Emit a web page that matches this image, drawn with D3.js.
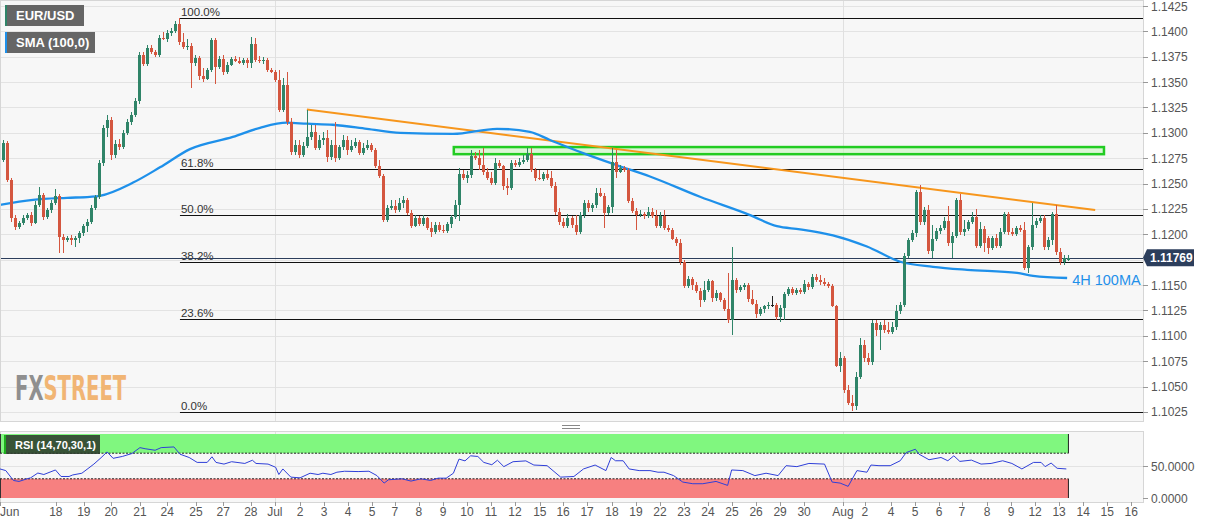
<!DOCTYPE html>
<html><head><meta charset="utf-8">
<script src="https://cdn.jsdelivr.net/npm/d3@7"></script>
<style>
body{margin:0;background:#fff;font-family:"Liberation Sans",Arial,sans-serif;}
svg{display:block}
</style></head>
<body><svg id="c" width="1207" height="526"></svg>
<script>
// ---------- DATA ----------
// 4H EUR/USD candles [open, high, low, close]
const ohlc = [
[1.1273,1.1293,1.1271,1.1290],[1.1290,1.1292,1.1252,1.1254],[1.1254,1.1256,1.1212,1.1216],[1.1216,1.1219,1.1204,1.1207],
[1.1207,1.1213,1.1205,1.1211],[1.1211,1.1219,1.1209,1.1216],[1.1216,1.1221,1.1214,1.1219],[1.1219,1.1222,1.1208,1.1211],
[1.1211,1.1233,1.1210,1.1229],[1.1229,1.1247,1.1227,1.1239],[1.1239,1.1241,1.1214,1.1217],[1.1217,1.1226,1.1215,1.1224],
[1.1224,1.1234,1.1221,1.1231],[1.1231,1.1245,1.1229,1.1238],[1.1238,1.1240,1.1182,1.1197],[1.1197,1.1200,1.1182,1.1194],
[1.1194,1.1198,1.1192,1.1196],[1.1196,1.1199,1.1190,1.1194],[1.1194,1.1198,1.1188,1.1196],[1.1196,1.1203,1.1191,1.1201],
[1.1201,1.1210,1.1198,1.1208],[1.1208,1.1215,1.1202,1.1212],[1.1212,1.1229,1.1210,1.1226],[1.1226,1.1239,1.1224,1.1237],
[1.1237,1.1273,1.1235,1.1270],[1.1270,1.1308,1.1267,1.1305],[1.1305,1.1318,1.1296,1.1313],[1.1313,1.1316,1.1273,1.1278],
[1.1278,1.1293,1.1275,1.1289],[1.1289,1.1294,1.1283,1.1286],[1.1286,1.1303,1.1284,1.1300],[1.1300,1.1314,1.1298,1.1311],
[1.1311,1.1321,1.1308,1.1318],[1.1318,1.1334,1.1316,1.1331],[1.1331,1.1380,1.1328,1.1377],[1.1377,1.1380,1.1366,1.1368],
[1.1368,1.1387,1.1366,1.1384],[1.1384,1.1387,1.1378,1.1380],[1.1380,1.1382,1.1375,1.1377],[1.1377,1.1396,1.1375,1.1393],
[1.1393,1.1399,1.1391,1.1392],[1.1392,1.1401,1.1390,1.1398],[1.1398,1.1403,1.1395,1.1400],[1.1400,1.1410,1.1398,1.1407],
[1.1407,1.1413,1.1387,1.1390],[1.1390,1.1398,1.1383,1.1385],[1.1385,1.1392,1.1382,1.1386],[1.1386,1.1389,1.1344,1.1369],
[1.1369,1.1377,1.1366,1.1374],[1.1374,1.1376,1.1352,1.1356],[1.1356,1.1364,1.1350,1.1353],[1.1353,1.1364,1.1352,1.1362],
[1.1362,1.1393,1.1360,1.1391],[1.1391,1.1393,1.1348,1.1365],[1.1365,1.1376,1.1363,1.1373],[1.1373,1.1377,1.1357,1.1360],
[1.1360,1.1370,1.1358,1.1367],[1.1367,1.1375,1.1366,1.1373],[1.1373,1.1376,1.1370,1.1371],[1.1371,1.1375,1.1368,1.1369],
[1.1369,1.1374,1.1367,1.1372],[1.1372,1.1374,1.1364,1.1369],[1.1369,1.1394,1.1364,1.1388],[1.1388,1.1393,1.1370,1.1372],
[1.1372,1.1376,1.1369,1.1371],[1.1371,1.1375,1.1368,1.1372],[1.1372,1.1374,1.1360,1.1362],[1.1362,1.1364,1.1359,1.1360],
[1.1360,1.1362,1.1350,1.1352],[1.1352,1.1362,1.1321,1.1323],[1.1323,1.1354,1.1321,1.1347],[1.1347,1.1360,1.1308,1.1311],
[1.1311,1.1315,1.1278,1.1281],[1.1281,1.1293,1.1278,1.1288],[1.1288,1.1293,1.1275,1.1278],[1.1278,1.1291,1.1276,1.1287],
[1.1287,1.1323,1.1285,1.1296],[1.1296,1.1308,1.1293,1.1301],[1.1301,1.1308,1.1283,1.1285],[1.1285,1.1298,1.1283,1.1293],
[1.1293,1.1301,1.1288,1.1295],[1.1295,1.1303,1.1271,1.1276],[1.1276,1.1293,1.1273,1.1288],[1.1288,1.1311,1.1271,1.1275],
[1.1275,1.1288,1.1273,1.1286],[1.1286,1.1298,1.1283,1.1293],[1.1293,1.1297,1.1278,1.1283],[1.1283,1.1293,1.1281,1.1287],
[1.1287,1.1295,1.1285,1.1291],[1.1291,1.1293,1.1278,1.1280],[1.1280,1.1290,1.1278,1.1285],[1.1285,1.1293,1.1283,1.1288],
[1.1288,1.1290,1.1281,1.1283],[1.1283,1.1285,1.1265,1.1267],[1.1267,1.1273,1.1256,1.1257],[1.1257,1.1259,1.1212,1.1214],
[1.1214,1.1229,1.1212,1.1226],[1.1226,1.1234,1.1224,1.1228],[1.1228,1.1234,1.1221,1.1224],[1.1224,1.1236,1.1222,1.1231],
[1.1231,1.1238,1.1226,1.1234],[1.1234,1.1236,1.1219,1.1221],[1.1221,1.1224,1.1206,1.1208],[1.1208,1.1219,1.1207,1.1216],
[1.1216,1.1218,1.1208,1.1210],[1.1210,1.1219,1.1208,1.1216],[1.1216,1.1217,1.1204,1.1206],[1.1206,1.1212,1.1197,1.1202],
[1.1202,1.1212,1.1200,1.1209],[1.1209,1.1212,1.1202,1.1204],[1.1204,1.1209,1.1201,1.1203],[1.1203,1.1212,1.1201,1.1210],
[1.1210,1.1219,1.1206,1.1217],[1.1217,1.1234,1.1215,1.1229],[1.1229,1.1265,1.1213,1.1259],[1.1259,1.1263,1.1254,1.1256],
[1.1256,1.1262,1.1251,1.1258],[1.1258,1.1283,1.1256,1.1277],[1.1277,1.1281,1.1273,1.1275],[1.1275,1.1283,1.1263,1.1268],
[1.1268,1.1285,1.1258,1.1261],[1.1261,1.1265,1.1254,1.1256],[1.1256,1.1261,1.1249,1.1251],[1.1251,1.1275,1.1249,1.1270],
[1.1270,1.1273,1.1265,1.1267],[1.1267,1.1268,1.1244,1.1248],[1.1248,1.1256,1.1239,1.1246],[1.1246,1.1273,1.1244,1.1270],
[1.1270,1.1273,1.1266,1.1268],[1.1268,1.1275,1.1266,1.1271],[1.1271,1.1278,1.1269,1.1273],[1.1273,1.1285,1.1271,1.1279],
[1.1279,1.1285,1.1261,1.1263],[1.1263,1.1265,1.1253,1.1256],[1.1256,1.1263,1.1254,1.1255],[1.1255,1.1261,1.1253,1.1259],
[1.1259,1.1263,1.1254,1.1256],[1.1256,1.1262,1.1246,1.1248],[1.1248,1.1252,1.1219,1.1222],[1.1222,1.1226,1.1209,1.1212],
[1.1212,1.1216,1.1206,1.1208],[1.1208,1.1220,1.1206,1.1216],[1.1216,1.1218,1.1206,1.1209],[1.1209,1.1219,1.1199,1.1202],
[1.1202,1.1222,1.1200,1.1219],[1.1219,1.1234,1.1216,1.1231],[1.1231,1.1234,1.1222,1.1226],[1.1226,1.1231,1.1222,1.1229],
[1.1229,1.1246,1.1226,1.1241],[1.1241,1.1246,1.1237,1.1238],[1.1238,1.1241,1.1206,1.1221],[1.1221,1.1229,1.1219,1.1227],
[1.1227,1.1285,1.1221,1.1271],[1.1271,1.1283,1.1256,1.1261],[1.1261,1.1268,1.1260,1.1265],[1.1265,1.1267,1.1261,1.1263],
[1.1263,1.1265,1.1231,1.1233],[1.1233,1.1236,1.1221,1.1223],[1.1223,1.1226,1.1204,1.1219],[1.1219,1.1224,1.1217,1.1220],
[1.1220,1.1222,1.1215,1.1218],[1.1218,1.1227,1.1216,1.1222],[1.1222,1.1226,1.1216,1.1218],[1.1218,1.1224,1.1206,1.1208],
[1.1208,1.1222,1.1206,1.1218],[1.1218,1.1224,1.1204,1.1206],[1.1206,1.1209,1.1202,1.1204],[1.1204,1.1206,1.1194,1.1195],
[1.1195,1.1197,1.1189,1.1191],[1.1191,1.1195,1.1170,1.1173],[1.1173,1.1175,1.1147,1.1149],[1.1149,1.1159,1.1147,1.1156],
[1.1156,1.1158,1.1145,1.1150],[1.1150,1.1153,1.1142,1.1144],[1.1144,1.1147,1.1128,1.1135],[1.1135,1.1154,1.1133,1.1145],
[1.1145,1.1156,1.1143,1.1154],[1.1154,1.1155,1.1133,1.1137],[1.1137,1.1145,1.1134,1.1142],[1.1142,1.1143,1.1133,1.1135],
[1.1135,1.1137,1.1124,1.1126],[1.1126,1.1162,1.1113,1.1116],[1.1116,1.1188,1.1101,1.1155],[1.1155,1.1157,1.1142,1.1145],
[1.1145,1.1150,1.1143,1.1148],[1.1148,1.1152,1.1145,1.1150],[1.1150,1.1152,1.1133,1.1136],[1.1136,1.1145,1.1130,1.1131],
[1.1131,1.1135,1.1118,1.1122],[1.1122,1.1128,1.1120,1.1126],[1.1126,1.1130,1.1123,1.1129],[1.1129,1.1133,1.1126,1.1130],
[1.1130,1.1139,1.1128,1.1130],[1.1130,1.1132,1.1116,1.1119],[1.1119,1.1130,1.1114,1.1127],[1.1127,1.1143,1.1116,1.1141],
[1.1141,1.1148,1.1139,1.1146],[1.1146,1.1148,1.1140,1.1142],[1.1142,1.1147,1.1140,1.1145],[1.1145,1.1147,1.1141,1.1143],
[1.1143,1.1155,1.1141,1.1151],[1.1151,1.1153,1.1145,1.1148],[1.1148,1.1161,1.1146,1.1158],[1.1158,1.1161,1.1153,1.1155],
[1.1155,1.1160,1.1150,1.1153],[1.1153,1.1157,1.1149,1.1151],[1.1151,1.1153,1.1147,1.1149],[1.1149,1.1151,1.1128,1.1129],
[1.1129,1.1130,1.1069,1.1070],[1.1070,1.1084,1.1064,1.1078],[1.1078,1.1080,1.1044,1.1047],[1.1047,1.1052,1.1032,1.1034],
[1.1034,1.1042,1.1026,1.1031],[1.1031,1.1064,1.1027,1.1059],[1.1059,1.1098,1.1057,1.1091],[1.1091,1.1096,1.1074,1.1078],
[1.1078,1.1083,1.1071,1.1074],[1.1074,1.1116,1.1071,1.1113],[1.1113,1.1116,1.1100,1.1106],[1.1106,1.1114,1.1086,1.1111],
[1.1111,1.1116,1.1103,1.1106],[1.1106,1.1114,1.1102,1.1104],[1.1104,1.1114,1.1102,1.1109],[1.1109,1.1130,1.1106,1.1124],
[1.1124,1.1133,1.1122,1.1130],[1.1130,1.1182,1.1128,1.1179],[1.1179,1.1196,1.1177,1.1194],[1.1194,1.1204,1.1192,1.1201],
[1.1201,1.1244,1.1197,1.1242],[1.1242,1.1249,1.1209,1.1212],[1.1212,1.1227,1.1209,1.1224],[1.1224,1.1229,1.1181,1.1184],
[1.1184,1.1209,1.1177,1.1195],[1.1195,1.1206,1.1193,1.1203],[1.1203,1.1209,1.1200,1.1206],[1.1206,1.1217,1.1204,1.1213],
[1.1213,1.1228,1.1189,1.1191],[1.1191,1.1202,1.1177,1.1198],[1.1198,1.1236,1.1196,1.1234],[1.1234,1.1240,1.1199,1.1202],
[1.1202,1.1214,1.1198,1.1205],[1.1205,1.1214,1.1203,1.1212],[1.1212,1.1222,1.1210,1.1217],[1.1217,1.1225,1.1187,1.1189],
[1.1189,1.1212,1.1187,1.1205],[1.1205,1.1208,1.1183,1.1191],[1.1196,1.1198,1.1181,1.1187],[1.1187,1.1198,1.1185,1.1196],
[1.1196,1.1200,1.1187,1.1189],[1.1189,1.1206,1.1187,1.1202],[1.1202,1.1222,1.1200,1.1220],[1.1220,1.1222,1.1199,1.1202],
[1.1202,1.1206,1.1198,1.1200],[1.1200,1.1208,1.1198,1.1206],[1.1206,1.1209,1.1202,1.1204],[1.1204,1.1212,1.1165,1.1167],
[1.1167,1.1190,1.1162,1.1188],[1.1188,1.1231,1.1185,1.1209],[1.1209,1.1216,1.1206,1.1213],[1.1213,1.1219,1.1211,1.1216],
[1.1216,1.1219,1.1185,1.1188],[1.1188,1.1197,1.1185,1.1194],[1.1194,1.1222,1.1190,1.1220],[1.1220,1.1229,1.1180,1.1183],
[1.1183,1.1187,1.1170,1.1173],[1.1173,1.1180,1.1170,1.1177],[1.1175,1.1180,1.1174,1.11769]
];
// SMA(100) on 4H: [candle index, value]
const smaPoints = [[-0.75,1.1229],[7.5,1.1234],[16,1.1236],[21.7,1.1237],[24.2,1.1238],[32.5,1.1251],[39.2,1.1266],[46.7,1.1284],[57.4,1.1296],[64.2,1.1305],[70.9,1.1310],[75.9,1.1309],[82.4,1.1308],[90.9,1.1304],[99.2,1.1300],[112.4,1.1299],[123.4,1.1304],[131.6,1.1301],[136.6,1.1293],[144.9,1.1280],[153.4,1.1268],[161.6,1.1257],[174.1,1.1237],[186.6,1.1219],[193.3,1.1208],[199.1,1.1205],[207.3,1.1199],[215.8,1.1188],[224.1,1.1173],[232.3,1.1168],[240.8,1.1165],[253.3,1.1162],[257.3,1.1159],[265.8,1.1157]];
// RSI(14): [candle index, value]
const rsiPoints = [[-0.75,45.4],[0.7,42.8],[2.6,27.4],[4,25.9],[6,30],[6.9,31.5],[8.7,39],[10.2,36.7],[13.1,43.8],[14.5,33.6],[16.5,33.6],[17.4,36],[19.7,38.7],[22.7,53],[24.5,63],[26,72],[27.5,62],[29.8,64.9],[32.2,69.5],[34.2,78.7],[35.5,77],[38,74.6],[39.5,78.7],[42.7,79.8],[44.2,68.5],[46.5,63.3],[48.5,55.6],[51,55.6],[52.2,64.4],[53.2,55.6],[55.2,53],[57.1,56.7],[60.4,54],[62.3,59],[63.2,54],[66.2,53],[68.1,48],[68.9,36.7],[69.9,45.4],[71.9,32.6],[74.2,31.5],[76.7,38.7],[78.7,36.7],[79.9,38.7],[81.9,36.7],[83.4,40.3],[85.3,41.8],[88.7,41.3],[91.4,41.8],[93.4,35],[95.2,23.3],[96.3,28.5],[99.7,30],[101.9,26.4],[104.4,30],[106.8,27.4],[108.7,31],[110.7,31],[112.5,38.7],[113.9,60.8],[115.4,58],[116.8,65.9],[118.6,64.9],[120.1,55.6],[122.1,52],[123.5,59],[125.1,49],[127.4,56.7],[130.6,58],[132.6,51.5],[135.9,50.5],[139.3,32.6],[142.6,33.6],[145,45.4],[147.9,51.5],[150.6,42.8],[151.9,63.3],[153,58.2],[154.9,58.2],[156.4,45.4],[158.9,42.8],[161.6,42.8],[163.6,40.3],[165.1,40.3],[167.5,35],[169.8,24.9],[172.3,22.3],[174.8,22.3],[178.1,25.9],[181,19.7],[182,43.8],[184.8,42.8],[187.8,35],[190.6,38.7],[193.6,35],[195.6,50.5],[198.3,49],[201.3,54],[205.2,53],[207.1,24.9],[209.1,23.3],[211.1,18.2],[213.3,42.8],[215.8,40.3],[216.8,51.5],[218.8,50.5],[221.6,50.5],[224.1,58.2],[225.6,71],[227.9,76.2],[228.8,68.5],[231.3,59.8],[234.3,63.3],[236,58.2],[237.5,65.9],[239,57.2],[241.9,59.2],[244.3,53],[246.8,54],[249.7,58.2],[252,54],[254.5,45.4],[257.4,55.6],[259.3,55.6],[260.3,49],[261.8,54.6],[263.3,46.4],[265.6,45.4]];
const priceTicks = [1.1025,1.1050,1.1075,1.1100,1.1125,1.1150,1.1200,1.1225,1.1250,1.1275,1.1300,1.1325,1.1350,1.1375,1.1400,1.1425];
const gridTicks = [1.1025,1.1050,1.1075,1.1100,1.1125,1.1150,1.1175,1.1200,1.1225,1.1250,1.1275,1.1300,1.1325,1.1350,1.1375,1.1400,1.1425];
const rsiTicks = [0, 50];
const rsiTickLabels = ["0.0000","50.0000"];
const dateLabels = ["Jun","18","19","20","21","24","25","27","28","Jul","2","3","4","5","7","8","9","10","11","12","15","16","17","18","19","22","23","24","25","26","29","30","Aug","2","4","5","6","7","8","9","12","13","14","15","16"];
const datePos = [-0.75,13.2,20.2,27,34.2,41,48.2,55,61.9,67.9,74.2,80.2,86.2,92.2,97.9,103.9,109.9,115.9,121.9,127.9,134.1,139.9,145.9,152.1,158.1,164.1,170.1,176.1,182.1,188.1,194.1,200.1,209.8,215.3,221.8,227.8,233.8,239.5,245.8,251.8,257.8,263.8,269.8,275.8,281.8];
const monthStarts = [67.9, 209.8];
const fibHigh = 1.1413, fibLow = 1.1025, fibStart = 44.2;
const fibLevels = [1, 0.618, 0.5, 0.382, 0.236, 0];
const fibLabels = ["100.0%","61.8%","50.0%","38.2%","23.6%","0.0%"];
const trendline = [[75.9,1.1323],[272.8,1.1224]];
const zoneX = [112.6, 275], zonePrice = [1.1279, 1.1286];
const lastPrice = 1.11769;
const rsiBands = [[70,100,"#80f77f"],[0,30,"#f78080"]];

// ---------- LAYOUT ----------
const W = 1143, mainH = 421, rTop = 431, rBot = 502;
const svg = d3.select("#c");
const x = d3.scaleLinear().domain([-0.75, 284.75]).range([0, W]);
const y = d3.scaleLinear().domain([1.10161, 1.14309]).range([mainH, 0]);
const ry = d3.scaleLinear().domain([0, 100]).range([498, 434]);
const lastIdx = ohlc.length - 1;

// backgrounds
svg.append("rect").attr("x",0).attr("y",0).attr("width",W).attr("height",mainH).attr("fill","#f7f7f7");
svg.append("rect").attr("x",0).attr("y",rTop).attr("width",W).attr("height",rBot-rTop).attr("fill","#f7f7f7");

// grid
const g = svg.append("g").attr("shape-rendering","crispEdges");
g.selectAll(".hg").data(gridTicks).join("line").attr("x1",0).attr("x2",W)
 .attr("y1",d=>Math.round(y(d))+0.5).attr("y2",d=>Math.round(y(d))+0.5).attr("stroke","#e3e3e3");
g.selectAll(".vg").data(monthStarts).join("line").attr("x1",d=>Math.round(x(d))+0.5).attr("x2",d=>Math.round(x(d))+0.5)
 .attr("y1",0).attr("y2",mainH).attr("stroke","#e0e0e0");
g.selectAll(".vg2").data(monthStarts).join("line").attr("x1",d=>Math.round(x(d))+0.5).attr("x2",d=>Math.round(x(d))+0.5)
 .attr("y1",rTop).attr("y2",rBot).attr("stroke","#e0e0e0");
g.append("line").attr("x1",0).attr("x2",W).attr("y1",Math.round(ry(50))+0.5).attr("y2",Math.round(ry(50))+0.5).attr("stroke","#e3e3e3");

// FXSTREET logo (one text, horizontally condensed via transform)
const logo = svg.append("text").attr("transform","translate(15,400) scale(0.66,1)")
 .attr("font-family","DejaVu Sans Condensed").attr("font-weight","bold").attr("font-size",33);
logo.append("tspan").attr("fill","#8f8f8f").text("FX");
logo.append("tspan").attr("fill","#f1b574").text("STREET");

// fib lines
const fibG = svg.append("g");
fibLevels.forEach((lv,i)=>{
  const p = fibLow + (fibHigh-fibLow)*lv;
  const yy = Math.round(y(p))+0.5;
  fibG.append("line").attr("x1",x(fibStart)).attr("x2",W).attr("y1",yy).attr("y2",yy).attr("stroke","#111").attr("stroke-width",1.2);
  fibG.append("text").attr("x",x(fibStart)+1).attr("y",yy-3).attr("font-size",11.5).attr("fill","#333").text(fibLabels[i]);
});

// last price line
svg.append("line").attr("x1",0).attr("x2",W).attr("y1",Math.round(y(lastPrice))+0.5).attr("y2",Math.round(y(lastPrice))+0.5)
 .attr("stroke","#2c3e5c").attr("stroke-width",1);

// resistance zone
svg.append("rect").attr("x",x(zoneX[0])).attr("y",y(zonePrice[1])).attr("width",x(zoneX[1])-x(zoneX[0]))
 .attr("height",y(zonePrice[0])-y(zonePrice[1])).attr("fill","#c8f5c0").attr("fill-opacity",0.6)
 .attr("stroke","#22cc22").attr("stroke-width",2.5);

// trendline
svg.append("line").attr("x1",x(trendline[0][0])).attr("y1",y(trendline[0][1])).attr("x2",x(trendline[1][0])).attr("y2",y(trendline[1][1]))
 .attr("stroke","#f7961c").attr("stroke-width",2);

// SMA
svg.append("path").datum(smaPoints).attr("fill","none").attr("stroke","#1e90ea").attr("stroke-width",2.3)
 .attr("d", d3.line().x(d=>x(d[0])).y(d=>y(d[1])).curve(d3.curveMonotoneX));

// candles
const up = "#2f8468", dn = "#d4563f";
const cg = svg.append("g").attr("shape-rendering","crispEdges");
const col = d => d[3] > d[0] ? up : (d[3] < d[0] ? dn : "#222");
cg.selectAll(".wick").data(ohlc).join("line")
 .attr("x1",(d,i)=>Math.round(x(i))+0.5).attr("x2",(d,i)=>Math.round(x(i))+0.5)
 .attr("y1",d=>y(d[1])).attr("y2",d=>y(d[2])).attr("stroke",col);
cg.selectAll(".body").data(ohlc).join("rect")
 .attr("x",(d,i)=>Math.round(x(i))-1).attr("width",3)
 .attr("y",d=>y(Math.max(d[0],d[3])))
 .attr("height",d=>Math.max(1, Math.abs(y(d[0])-y(d[3]))))
 .attr("fill",col);

// 4H 100MA label
svg.append("text").attr("x",x(smaPoints[smaPoints.length-1][0])+5).attr("y",285).attr("font-size",14.5).attr("fill","#1e90ea").text("4H 100MA");

// panel borders
svg.append("rect").attr("x",0.5).attr("y",0.5).attr("width",W).attr("height",mainH).attr("fill","none").attr("stroke","#d6d6d6").attr("shape-rendering","crispEdges");
svg.append("rect").attr("x",0.5).attr("y",rTop+0.5).attr("width",W).attr("height",rBot-rTop).attr("fill","none").attr("stroke","#d6d6d6").attr("shape-rendering","crispEdges");

// y axis (price)
const ya = svg.append("g");
ya.selectAll("line").data(priceTicks).join("line").attr("x1",W).attr("x2",W+5)
 .attr("y1",d=>Math.round(y(d))+0.5).attr("y2",d=>Math.round(y(d))+0.5).attr("stroke","#999");
ya.selectAll("text").data(priceTicks).join("text").attr("x",W+8).attr("y",d=>y(d)+4.5)
 .attr("font-size",12).attr("fill","#555").text(d=>d.toFixed(4));

// price tag
const ly = y(lastPrice);
svg.append("path").attr("d",`M${W},${ly} L${W+4},${ly-8.5} L${W+51},${ly-8.5} L${W+51},${ly+8.5} L${W+4},${ly+8.5} Z`).attr("fill","#2c3e5c");
svg.append("text").attr("x",W+7).attr("y",ly+4.5).attr("font-size",12).attr("font-weight","bold").attr("fill","#fff").text(lastPrice.toFixed(5));

// RSI bands
const bx1 = x(lastIdx)+0.5;
rsiBands.forEach(b=>{
  svg.append("rect").attr("x",0).attr("y",ry(b[1])).attr("width",bx1).attr("height",ry(b[0])-ry(b[1])).attr("fill",b[2]);
  svg.append("line").attr("x1",bx1).attr("x2",bx1).attr("y1",ry(b[1])).attr("y2",ry(b[0])).attr("stroke","#222");
  svg.append("line").attr("x1",0.5).attr("x2",0.5).attr("y1",ry(b[1])).attr("y2",ry(b[0])).attr("stroke","#333");
});
[70,30].forEach(v=>{
  svg.append("line").attr("x1",0).attr("x2",bx1).attr("y1",ry(v)).attr("y2",ry(v)).attr("stroke","#222").attr("stroke-dasharray","2,1.5");
});
svg.append("path").datum(rsiPoints).attr("fill","none").attr("stroke","#2f3fd8").attr("stroke-width",1)
 .attr("d", d3.line().x(d=>x(d[0])).y(d=>ry(d[1])));

// RSI axis
const ra = svg.append("g");
ra.selectAll("line").data(rsiTicks).join("line").attr("x1",W).attr("x2",W+5)
 .attr("y1",d=>Math.round(ry(d))+0.5).attr("y2",d=>Math.round(ry(d))+0.5).attr("stroke","#999");
ra.selectAll("text").data(rsiTicks).join("text").attr("x",W+8).attr("y",d=>ry(d)+4.5)
 .attr("font-size",12).attr("fill","#555").text((d,i)=>rsiTickLabels[i]);

// drag handle
[425.5,428.5].forEach(v=>svg.append("line").attr("x1",562).attr("x2",580).attr("y1",v).attr("y2",v).attr("stroke","#888"));

// x axis
const xa = svg.append("g");
xa.selectAll("line").data(datePos).join("line").attr("x1",d=>Math.round(x(d))+0.5).attr("x2",d=>Math.round(x(d))+0.5)
 .attr("y1",rBot).attr("y2",rBot+4).attr("stroke","#999");
xa.selectAll("text").data(datePos).join("text").attr("x",d=>x(d)).attr("y",516)
 .attr("text-anchor",(d,i)=>i===0?"start":"middle").attr("font-size",12).attr("fill","#555").text((d,i)=>dateLabels[i]);

// legends
function legend(x0,y0,w,h,accent,label,fill,fs,tl){
  svg.append("rect").attr("x",x0).attr("y",y0).attr("width",w).attr("height",h).attr("fill",fill);
  svg.append("rect").attr("x",x0).attr("y",y0).attr("width",2).attr("height",h).attr("fill",accent);
  const t = svg.append("text").attr("x",x0+11).attr("y",y0+h/2+4.5).attr("font-size",fs).attr("font-weight","bold").attr("fill","#fff").text(label);
  if (tl) t.attr("textLength",tl).attr("lengthAdjust","spacingAndGlyphs");
}
legend(5,5,79,21,"#2f8468","EUR/USD","#666",13);
legend(5,32,90,21,"#1e90ea","SMA (100,0)","#666",13);
legend(4,435,96,19,"#1fae1f","RSI (14,70,30,1)","rgba(45,60,45,0.88)",11.5,81);
</script></body></html>
